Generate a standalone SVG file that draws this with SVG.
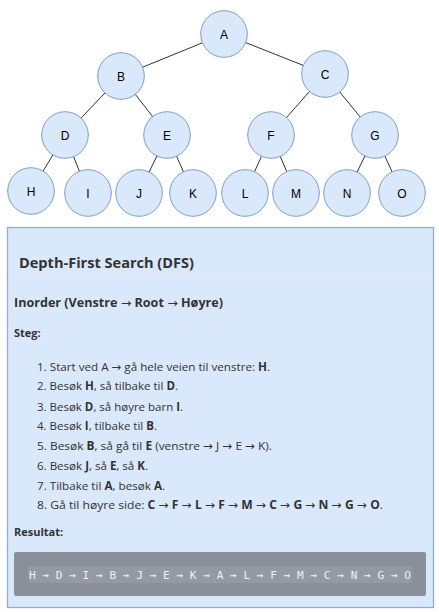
<svg xmlns="http://www.w3.org/2000/svg" width="439" height="612" viewBox="0 0 439 612">
<style>
.node circle{fill:#dae8fc;stroke:#7f9dcb;stroke-width:1}
.node text{font-family:"Liberation Sans",Arial,sans-serif;font-size:12px;fill:#000;text-anchor:middle}
.edges line{stroke:#333;stroke-width:1}
.t{font-family:"Open Sans","DejaVu Sans",sans-serif;fill:#333}
.h{font-weight:bold}
.li{font-size:11.6px}
.b{font-weight:bold}
.ar{font-family:"DejaVu Sans",sans-serif;font-weight:normal}
.code{font-family:"DejaVu Sans Mono",monospace;font-size:11px;fill:#eef0f6}
</style>
<rect width="439" height="612" fill="#ffffff"/>
<g class="edges">
<line x1="224" y1="34" x2="121" y2="76"/>
<line x1="224" y1="34" x2="325" y2="74"/>
<line x1="121" y1="76" x2="65" y2="135"/>
<line x1="121" y1="76" x2="167" y2="135"/>
<line x1="325" y1="74" x2="271" y2="135"/>
<line x1="325" y1="74" x2="375" y2="135"/>
<line x1="65" y1="135" x2="31" y2="191"/>
<line x1="65" y1="135" x2="88" y2="193"/>
<line x1="167" y1="135" x2="139" y2="193"/>
<line x1="167" y1="135" x2="193" y2="193"/>
<line x1="271" y1="135" x2="245" y2="193"/>
<line x1="271" y1="135" x2="296" y2="193"/>
<line x1="375" y1="135" x2="347" y2="193"/>
<line x1="375" y1="135" x2="402" y2="193"/>
</g>
<g id="node-A" class="node"><circle cx="224" cy="34" r="23.3"/><text x="224" y="38.5">A</text></g>
<g id="node-B" class="node"><circle cx="121" cy="76" r="23.3"/><text x="121" y="80.5">B</text></g>
<g id="node-C" class="node"><circle cx="325" cy="74" r="23.3"/><text x="325" y="78.5">C</text></g>
<g id="node-D" class="node"><circle cx="65" cy="135" r="23.3"/><text x="65" y="139.5">D</text></g>
<g id="node-E" class="node"><circle cx="167" cy="135" r="23.3"/><text x="167" y="139.5">E</text></g>
<g id="node-F" class="node"><circle cx="271" cy="135" r="23.3"/><text x="271" y="139.5">F</text></g>
<g id="node-G" class="node"><circle cx="375" cy="135" r="23.3"/><text x="375" y="139.5">G</text></g>
<g id="node-H" class="node"><circle cx="31" cy="191" r="23.3"/><text x="31" y="195.5">H</text></g>
<g id="node-I" class="node"><circle cx="88" cy="193" r="23.3"/><text x="88" y="197.5">I</text></g>
<g id="node-J" class="node"><circle cx="139" cy="193" r="23.3"/><text x="139" y="197.5">J</text></g>
<g id="node-K" class="node"><circle cx="193" cy="193" r="23.3"/><text x="193" y="197.5">K</text></g>
<g id="node-L" class="node"><circle cx="245" cy="193" r="23.3"/><text x="245" y="197.5">L</text></g>
<g id="node-M" class="node"><circle cx="296" cy="193" r="23.3"/><text x="296" y="197.5">M</text></g>
<g id="node-N" class="node"><circle cx="347" cy="193" r="23.3"/><text x="347" y="197.5">N</text></g>
<g id="node-O" class="node"><circle cx="402" cy="193" r="23.3"/><text x="402" y="197.5">O</text></g>
<g id="panel">
<rect x="7.5" y="227.5" width="426" height="380" fill="#dae8fc" stroke="#93abd8" stroke-width="1.3"/>
<line x1="14" y1="273.5" x2="427" y2="273.5" stroke="#e4ecf8" stroke-width="1"/>
<text class="t h" x="19" y="268" font-size="14.5" textLength="175" lengthAdjust="spacingAndGlyphs">Depth-First Search (DFS)</text>
<text class="t h" x="14" y="307" font-size="12" textLength="209" lengthAdjust="spacingAndGlyphs">Inorder (Venstre <tspan class="ar">→</tspan> Root <tspan class="ar">→</tspan> Høyre)</text>
<text class="t h" x="14" y="337" font-size="11">Steg:</text>
<text class="t li" x="37" y="371" textLength="233" lengthAdjust="spacingAndGlyphs">1. Start ved A <tspan class="ar">→</tspan> gå hele veien til venstre: <tspan class="b">H</tspan>.</text>
<text class="t li" x="37" y="390" textLength="141" lengthAdjust="spacingAndGlyphs">2. Besøk <tspan class="b">H</tspan>, så tilbake til <tspan class="b">D</tspan>.</text>
<text class="t li" x="37" y="411" textLength="146" lengthAdjust="spacingAndGlyphs">3. Besøk <tspan class="b">D</tspan>, så høyre barn <tspan class="b">I</tspan>.</text>
<text class="t li" x="37" y="429.5" textLength="120" lengthAdjust="spacingAndGlyphs">4. Besøk <tspan class="b">I</tspan>, tilbake til <tspan class="b">B</tspan>.</text>
<text class="t li" x="37" y="450" textLength="235" lengthAdjust="spacingAndGlyphs">5. Besøk <tspan class="b">B</tspan>, så gå til <tspan class="b">E</tspan> (venstre <tspan class="ar">→</tspan> J <tspan class="ar">→</tspan> E <tspan class="ar">→</tspan> K).</text>
<text class="t li" x="37" y="470" textLength="111" lengthAdjust="spacingAndGlyphs">6. Besøk <tspan class="b">J</tspan>, så <tspan class="b">E</tspan>, så <tspan class="b">K</tspan>.</text>
<text class="t li" x="37" y="490" textLength="128" lengthAdjust="spacingAndGlyphs">7. Tilbake til <tspan class="b">A</tspan>, besøk <tspan class="b">A</tspan>.</text>
<text class="t li" x="37" y="509" textLength="346" lengthAdjust="spacingAndGlyphs">8. Gå til høyre side: <tspan class="b">C <tspan class="ar">→</tspan> F <tspan class="ar">→</tspan> L <tspan class="ar">→</tspan> F <tspan class="ar">→</tspan> M <tspan class="ar">→</tspan> C <tspan class="ar">→</tspan> G <tspan class="ar">→</tspan> N <tspan class="ar">→</tspan> G <tspan class="ar">→</tspan> O</tspan>.</text>
<text class="t h" x="14" y="536" font-size="11">Resultat:</text>
<rect x="14" y="552" width="412" height="44" rx="2" fill="#8a9099"/>
<rect x="28" y="566" width="384" height="17" rx="2" fill="#949aa4"/>
<text class="code" x="29" y="578.5" textLength="382" lengthAdjust="spacingAndGlyphs">H → D → I → B → J → E → K → A → L → F → M → C → N → G → O</text>
</g>
</svg>
